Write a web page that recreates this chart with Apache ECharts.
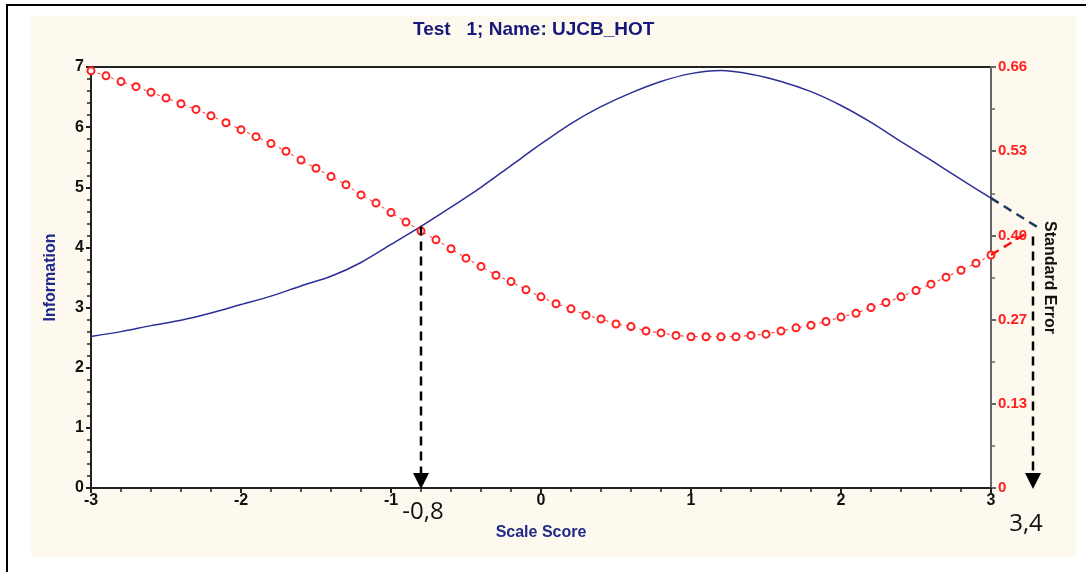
<!DOCTYPE html>
<html>
<head>
<meta charset="UTF-8">
<title>Test 1; Name: UJCB_HOT</title>
<script src="https://cdn.jsdelivr.net/npm/echarts@6.0.0/dist/echarts.min.js"></script>
<style>
    html, body {margin:0; padding:0; background:#fff;}
    #frame {position:absolute; left:6px; top:4px; width:1200px; height:700px; border:2px solid #000;}
    #panel {position:absolute; left:31px; top:16px; width:1045px; height:541px; background:#fef9ee;}
    #main {position:absolute; left:0; top:0; width:1086px; height:572px;}
</style>
</head>
<body>
<div id="frame"></div>
<div id="panel"></div>
<div id="main"></div>
<script>
    var narrow = "'Liberation Sans Narrow', 'Liberation Sans', Arial, sans-serif";

    // information curve, read every 0.2 on the scale score
    var infoScore = [-3, -2.8, -2.6, -2.4, -2.2, -2, -1.8, -1.6, -1.4, -1.2, -1, -0.8, -0.6, -0.4, -0.2,
                     0, 0.2, 0.4, 0.6, 0.8, 1, 1.2, 1.4, 1.6, 1.8, 2, 2.2, 2.4, 2.6, 2.8, 3];
    var infoValues = [2.52, 2.60, 2.70, 2.79, 2.91, 3.05, 3.19, 3.36, 3.52, 3.75, 4.05, 4.35, 4.67, 5.00, 5.36,
                      5.72, 6.06, 6.34, 6.57, 6.76, 6.89, 6.94, 6.88, 6.76, 6.59, 6.36, 6.08, 5.76, 5.45, 5.13, 4.82];

    // standard error points, every 0.1
    var seScore = [-3, -2.9, -2.8, -2.7, -2.6, -2.5, -2.4, -2.3, -2.2, -2.1, -2, -1.9, -1.8, -1.7, -1.6,
                   -1.5, -1.4, -1.3, -1.2, -1.1, -1, -0.9, -0.8, -0.7, -0.6, -0.5, -0.4, -0.3, -0.2, -0.1,
                   0, 0.1, 0.2, 0.3, 0.4, 0.5, 0.6, 0.7, 0.8, 0.9, 1, 1.1, 1.2, 1.3, 1.4,
                   1.5, 1.6, 1.7, 1.8, 1.9, 2, 2.1, 2.2, 2.3, 2.4, 2.5, 2.6, 2.7, 2.8, 2.9, 3];
    var seValues = [0.659, 0.651, 0.642, 0.634, 0.625, 0.616, 0.607, 0.598, 0.588, 0.577, 0.566, 0.555, 0.544, 0.532, 0.518,
                    0.505, 0.492, 0.479, 0.463, 0.450, 0.435, 0.420, 0.406, 0.392, 0.378, 0.363, 0.350, 0.336, 0.326, 0.313,
                    0.302, 0.291, 0.283, 0.273, 0.267, 0.259, 0.255, 0.248, 0.245, 0.241, 0.239, 0.239, 0.239, 0.239, 0.241,
                    0.243, 0.248, 0.253, 0.257, 0.263, 0.270, 0.276, 0.285, 0.293, 0.302, 0.312, 0.322, 0.333, 0.344, 0.355, 0.368];

    var seTickLabels = ['0', '0.13', '0.27', '0.40', '0.53', '0.66'];

    // hand drawn annotations (in axis units)
    var arrowX = [-0.8, 3.28];
    var arrowTop = [4.35, 4.18];
    var arrowText = ['-0,8', '3,4'];
    var infoExtend = [[3, 4.82], [3.305, 4.345]];
    var seExtend = [[3, 0.368], [3.247, 0.404]];

    function pairs(xs, ys) {
        var out = [];
        for (var i = 0; i < xs.length; i++) out.push([xs[i], ys[i]]);
        return out;
    }

    var myChart = echarts.init(document.getElementById('main'));
    var option = {
        animation: false,
        title: {
            text: 'Test   1; Name: UJCB_HOT',
            left: 408, top: 15,
            textStyle: {color: '#17197a', fontSize: 19, fontWeight: 'bold', fontFamily: narrow}
        },
        grid: {
            left: 91, right: 95, top: 67, bottom: 84,
            show: true, backgroundColor: '#fff', borderColor: '#222', borderWidth: 2,
            outerBoundsMode: 'none'
        },
        xAxis: {
            type: 'value', min: -3, max: 3, interval: 1,
            name: 'Scale Score', nameLocation: 'middle', nameGap: 37,
            nameTextStyle: {color: '#1f2a8a', fontSize: 16, fontWeight: 'bold', fontFamily: narrow},
            axisLine: {show: true, onZero: false, lineStyle: {color: '#222', width: 2}},
            axisTick: {show: true, length: 5, lineStyle: {color: '#222', width: 2}},
            minorTick: {show: true, splitNumber: 5, length: 4, lineStyle: {color: '#222', width: 1.5}},
            splitLine: {show: false},
            axisLabel: {color: '#111', fontSize: 16, fontWeight: 'bold', fontFamily: narrow, margin: 5}
        },
        yAxis: [{
            type: 'value', min: 0, max: 7, interval: 1, position: 'left',
            name: 'Information', nameLocation: 'middle', nameGap: 32,
            nameTextStyle: {color: '#1f2a8a', fontSize: 16, fontWeight: 'bold', fontFamily: narrow},
            axisLine: {show: true, onZero: false, lineStyle: {color: '#222', width: 2}},
            axisTick: {show: true, length: 5, lineStyle: {color: '#222', width: 2}},
            minorTick: {show: true, splitNumber: 5, length: 4, lineStyle: {color: '#222', width: 1.5}},
            splitLine: {show: false},
            axisLabel: {color: '#111', fontSize: 16, fontWeight: 'bold', fontFamily: narrow, margin: 7}
        }, {
            type: 'value', min: 0, max: 0.665, interval: 0.133, position: 'right',
            name: 'Standard Error', nameLocation: 'middle', nameGap: 50, nameRotate: -90,
            nameTextStyle: {color: '#111', fontSize: 16, fontWeight: 'bold', fontFamily: narrow},
            axisLine: {show: true, onZero: false, lineStyle: {color: '#666', width: 2}},
            axisTick: {show: true, length: 5, lineStyle: {color: '#666', width: 2}},
            minorTick: {show: true, splitNumber: 2, length: 4, lineStyle: {color: '#666', width: 1.5}},
            splitLine: {show: false},
            axisLabel: {
                color: '#ff2020', fontSize: 15, fontWeight: 'bold', fontFamily: narrow, margin: 7,
                formatter: function (v) { return seTickLabels[Math.round(v / 0.133)]; }
            }
        }],
        series: [{
            name: 'Information', type: 'line', yAxisIndex: 0, smooth: 0.3, symbol: 'none',
            lineStyle: {color: '#2b2f96', width: 1.5},
            data: pairs(infoScore, infoValues)
        }, {
            name: 'Standard Error', type: 'line', yAxisIndex: 1, symbol: 'emptyCircle', symbolSize: 7,
            itemStyle: {color: '#ff2020', borderWidth: 1.3},
            lineStyle: {color: '#ff2020', width: 1, type: [3, 4]},
            data: pairs(seScore, seValues)
        }]
    };
    myChart.setOption(option);

    // annotations placed through the chart's own axes
    function px(x, y, yi) {
        return myChart.convertToPixel({xAxisIndex: 0, yAxisIndex: yi}, [x, y]);
    }
    var marks = [];
    function dashed(a, b, color) {
        marks.push({
            type: 'line', z: 20, silent: true,
            shape: {x1: a[0], y1: a[1], x2: b[0], y2: b[1]},
            style: {stroke: color, lineWidth: 2.5, lineDash: [9, 6]}
        });
    }
    dashed(px(infoExtend[0][0], infoExtend[0][1], 0), px(infoExtend[1][0], infoExtend[1][1], 0), '#1f3a5f');
    dashed(px(seExtend[0][0], seExtend[0][1], 1), px(seExtend[1][0], seExtend[1][1], 1), '#ff1010');

    var textShift = [[2, 24], [-7, 36]];
    for (var i = 0; i < arrowX.length; i++) {
        var upper = px(arrowX[i], arrowTop[i], 0);
        var base = px(arrowX[i], 0, 0);
        dashed(upper, [base[0], base[1] - 12], '#000');
        marks.push({
            type: 'polygon', z: 21, silent: true,
            shape: {points: [[base[0] - 8, base[1] - 15], [base[0] + 8, base[1] - 15], [base[0], base[1] + 1]]},
            style: {fill: '#000'}
        });
        marks.push({
            type: 'text', z: 21, silent: true,
            x: base[0] + textShift[i][0], y: base[1] + textShift[i][1],
            style: {text: arrowText[i], fill: '#111', fontSize: 24, align: 'center', verticalAlign: 'middle',
                    fontFamily: "'Open Sans', 'Noto Sans', sans-serif"}
        });
    }
    myChart.setOption({graphic: marks});
</script>
</body>
</html>
